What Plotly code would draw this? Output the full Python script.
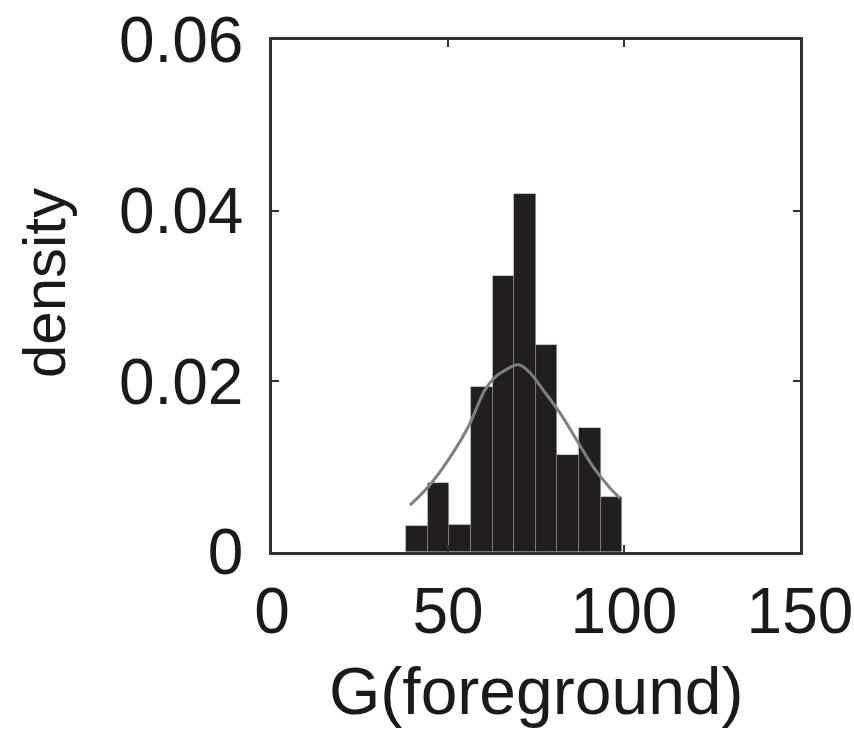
import plotly.graph_objects as go

# Histogram (density)
bin_left = [38.1, 44.24, 50.38, 56.52, 62.66, 68.8, 74.94, 81.08, 87.22, 93.36]
bin_width = 6.14
density = [0.0031, 0.0081, 0.0032, 0.0193, 0.0323, 0.0419, 0.0243, 0.0114, 0.0145, 0.0065]

# Fitted curve points
curve_x = [39.2, 44.4, 50.1, 55.8, 60.5, 63.4, 67.1, 69.0, 70.5, 73.3, 77.0, 81.8, 86.6, 91.2, 96.0, 98.9]
curve_y = [0.0055, 0.00765, 0.0108, 0.0147, 0.0190, 0.0205, 0.0215, 0.0219, 0.0219, 0.0210,
           0.0190, 0.0163, 0.0131, 0.0100, 0.0075, 0.0063]

x_ticks = [0, 50, 100, 150]
x_ticktext = ["0", "50", "100", "150"]
y_ticks = [0, 0.02, 0.04, 0.06]
y_ticktext = ["0", "0.02", "0.04", "0.06"]

FONT = "Liberation Sans, Arial, Helvetica, sans-serif"
AX = "#333333"

centers = [b + bin_width / 2 for b in bin_left]

fig = go.Figure()
fig.add_trace(go.Bar(
    x=centers, y=density, width=[bin_width] * len(centers),
    marker=dict(color="#221e1f", line=dict(color="rgba(200,200,200,0.4)", width=0.7)),
    showlegend=False, hoverinfo="skip",
))
fig.add_trace(go.Scatter(
    x=curve_x, y=curve_y, mode="lines",
    line=dict(color="#808080", width=3, shape="spline"),
    showlegend=False, hoverinfo="skip",
))

axis_common = dict(
    showline=True, linewidth=2.5, linecolor=AX, mirror="ticks",
    ticks="inside", ticklen=7, tickwidth=2, tickcolor=AX,
    showgrid=False, zeroline=False, automargin=False,
    tickfont=dict(family=FONT, size=64, color="#1a1a1a"),
)

fig.update_layout(
    width=854, height=734,
    margin=dict(l=272, r=54, t=40, b=182),
    paper_bgcolor="white", plot_bgcolor="white",
    bargap=0,
    xaxis=dict(range=[0, 150], tickvals=x_ticks, ticktext=x_ticktext,
               ticklabelstandoff=1, **axis_common),
    yaxis=dict(range=[0, 0.06], tickvals=y_ticks, ticktext=y_ticktext,
               ticklabelstandoff=13, **axis_common),
    annotations=[
        dict(text="G(foreground)", xref="paper", yref="paper", x=0.5, y=-0.195,
             xanchor="center", yanchor="top", showarrow=False,
             font=dict(family=FONT, size=66, color="#1a1a1a")),
        dict(text="density", xref="paper", yref="paper", x=-0.432, y=0.525,
             xanchor="center", yanchor="middle", textangle=-90, showarrow=False,
             font=dict(family=FONT, size=60, color="#1a1a1a")),
    ],
)

fig.write_html("out.html")
